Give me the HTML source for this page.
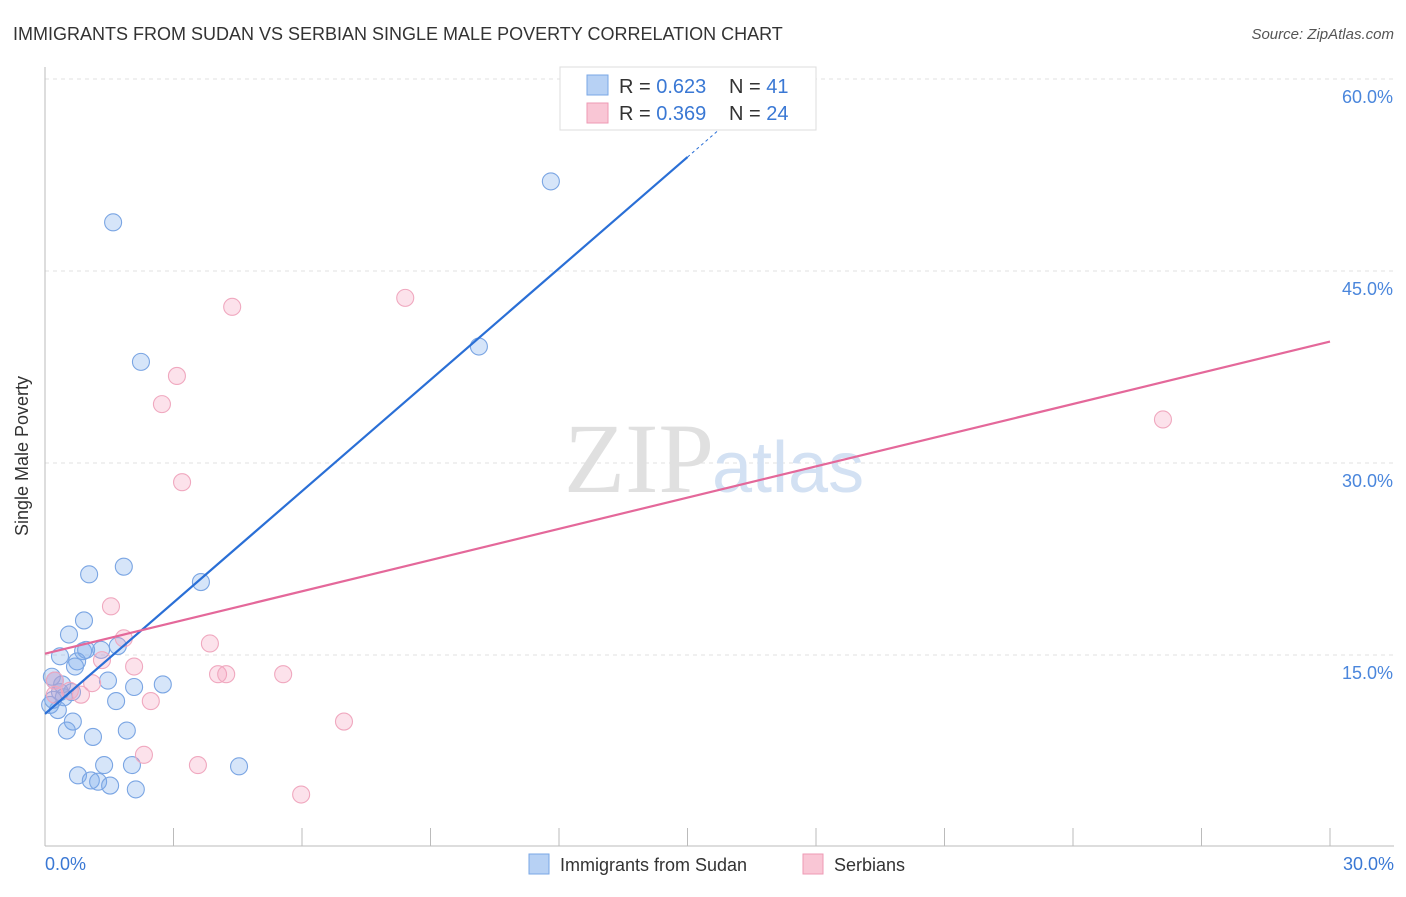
<!DOCTYPE html>
<html><head><meta charset="utf-8"><style>
body{margin:0;background:#fff;font-family:"Liberation Sans",sans-serif}
</style></head><body>
<svg width="1406" height="892" xmlns="http://www.w3.org/2000/svg">
<text x="13" y="40" font-size="18" fill="#333">IMMIGRANTS FROM SUDAN VS SERBIAN SINGLE MALE POVERTY CORRELATION CHART</text>
<text x="1394" y="39" font-size="15" fill="#555" text-anchor="end" font-style="italic">Source: ZipAtlas.com</text>
<g id="grid"></g>
<text x="714" y="492" font-size="100" fill="#e0e0e0" text-anchor="end" font-family="Liberation Serif">ZIP</text>
<text x="712" y="492" font-size="72" fill="#d3e1f3">atlas</text>
<line x1="45" y1="67" x2="45" y2="846" stroke="#bbb"/>
<line x1="45" y1="846" x2="1394" y2="846" stroke="#bbb"/>
<g id="ticks"></g>
<text x="28" y="456" font-size="18" fill="#333" text-anchor="middle" transform="rotate(-90 28 456)">Single Male Poverty</text>
<text x="45" y="870" font-size="18" fill="#3a78d4">0.0%</text>
<text x="1394" y="870" font-size="18" fill="#3a78d4" text-anchor="end">30.0%</text>
<g id="points"></g>
<g id="lines"></g>
<g>
<rect x="560" y="67" width="256" height="63" fill="#fff" stroke="#ddd"/>
<rect x="587" y="75" width="21" height="20" fill="#b7d1f4" stroke="#7aa7e6"/>
<rect x="587" y="103" width="21" height="20" fill="#f9c6d5" stroke="#ee9ab4"/>
<text x="619" y="93" font-size="20" fill="#333">R = <tspan fill="#3a78d4">0.623</tspan><tspan x="729">N = </tspan><tspan fill="#3a78d4">41</tspan></text>
<text x="619" y="120" font-size="20" fill="#333">R = <tspan fill="#3a78d4">0.369</tspan><tspan x="729">N = </tspan><tspan fill="#3a78d4">24</tspan></text>
</g>
<g>
<rect x="529" y="854" width="20" height="20" fill="#b7d1f4" stroke="#7aa7e6"/>
<text x="560" y="871" font-size="18" fill="#333">Immigrants from Sudan</text>
<rect x="803" y="854" width="20" height="20" fill="#f9c6d5" stroke="#ee9ab4"/>
<text x="834" y="871" font-size="18" fill="#333">Serbians</text>
</g>
</svg>
<script>
const yTicks=[15,30,45,60];
const blueX=[1.59,11.81,2.24,10.13,1.84,1.03,3.64,0.91,0.56,0.89,0.96,1.31,1.70,0.35,0.75,0.70,1.47,2.08,2.75,0.16,0.23,0.35,0.44,0.63,0.12,0.30,1.66,0.65,0.51,1.12,1.91,1.38,2.03,4.53,0.77,1.07,1.24,1.52,2.12,0.19,0.40];
const blueY=[48.8,52.0,37.9,39.1,21.9,21.3,20.7,17.7,16.6,15.3,15.4,15.4,15.7,14.9,14.5,14.1,13.0,12.5,12.7,13.3,13.0,12.1,11.7,12.1,11.1,10.7,11.4,9.8,9.1,8.6,9.1,6.4,6.4,6.3,5.6,5.2,5.1,4.8,4.5,11.5,12.7];
const pinkX=[4.37,8.41,3.08,2.73,3.20,26.1,1.54,1.84,3.85,1.33,2.08,4.04,4.23,5.56,1.10,0.84,0.58,0.23,2.47,6.98,2.31,3.57,5.98,0.23];
const pinkY=[42.2,42.9,36.8,34.6,28.5,33.4,18.8,16.3,15.9,14.6,14.1,13.5,13.5,13.5,12.8,11.9,12.2,13.0,11.4,9.8,7.2,6.4,4.1,11.9];
const blueLine=[10.4,2.9];
const pinkLine=[15.1,0.813];
const NS="http://www.w3.org/2000/svg";
const xs=v=>45+v/30*1285, ys=v=>847-v*12.8;
function mk(t,a,p){const e=document.createElementNS(NS,t);for(const k in a)e.setAttribute(k,a[k]);p.appendChild(e);return e;}
const grid=document.getElementById('grid');
yTicks.forEach(v=>{
 const l=mk('line',{x1:45,x2:1394,y1:ys(v),y2:ys(v),stroke:'#e2e2e2','stroke-dasharray':'4 4'},grid);
 
 
 const t=mk('text',{x:1393,y:ys(v)+24,'font-size':18,fill:'#4a86dc','text-anchor':'end'},grid);
 t.textContent=v.toFixed(1)+'%';
 
 
});
const tk=document.getElementById('ticks');
for(let i=0;i<=10;i++){
 const l=mk('line',{x1:xs(i*3),x2:xs(i*3),y1:828,y2:846,stroke:'#bbb'},tk);
 
 
}
const pts=document.getElementById('points');
blueX.forEach((x,i)=>{
 const c=mk('circle',{cx:xs(x),cy:ys(blueY[i]),r:8.5,fill:'rgba(120,170,235,0.3)',stroke:'#7aa5e3','stroke-width':1.1},pts);
 
 
});
pinkX.forEach((x,i)=>{
 const c=mk('circle',{cx:xs(x),cy:ys(pinkY[i]),r:8.5,fill:'rgba(245,160,190,0.3)',stroke:'#f0a8bf','stroke-width':1.1},pts);
 
 
});
const ln=document.getElementById('lines');
const b1=mk('line',{x1:xs(0),y1:ys(blueLine[0]),x2:xs(15),y2:ys(blueLine[0]+15*blueLine[1]),stroke:'#2a6fd6','stroke-width':2.2},ln);


const b2=mk('line',{x1:xs(15),y1:ys(blueLine[0]+15*blueLine[1]),x2:xs(16.3),y2:ys(blueLine[0]+16.3*blueLine[1]),stroke:'#2a6fd6','stroke-width':1,'stroke-dasharray':'3 3'},ln);


const p1=mk('line',{x1:xs(0),y1:ys(pinkLine[0]),x2:xs(30),y2:ys(pinkLine[0]+30*pinkLine[1]),stroke:'#e4689a','stroke-width':2.2},ln);


</script>
</body></html>
